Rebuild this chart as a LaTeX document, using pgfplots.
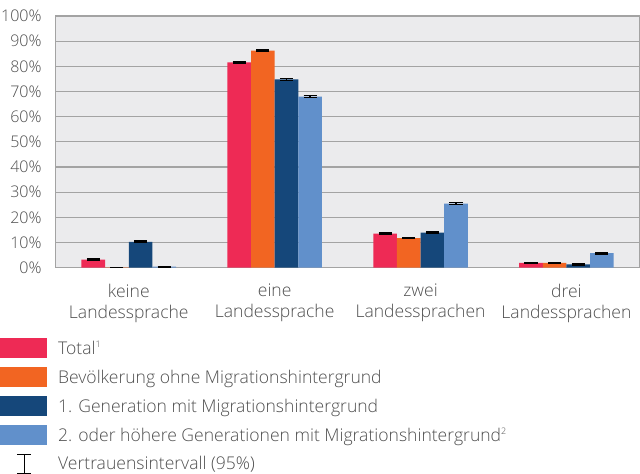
\documentclass[border=0pt]{standalone}
\usepackage{fontspec}
\setmainfont{Open Sans}[UprightFont={* Light}]
\usepackage{pgfplots}
\pgfplotsset{compat=1.18}
\definecolor{cRed}{HTML}{EE2A55}
\definecolor{cOrange}{HTML}{F26522}
\definecolor{cDark}{HTML}{15477A}
\definecolor{cLight}{HTML}{6190CB}
\definecolor{cGrid}{HTML}{A3A3A3}
\definecolor{cBg}{HTML}{EBEBED}
\definecolor{cText}{HTML}{4F4F4F}
\newcommand{\supnum}[1]{\raisebox{0.75ex}{\fontsize{9bp}{9bp}\selectfont #1}}
\begin{document}
\begin{tikzpicture}
\begin{axis}[
  width=582bp, height=251bp, scale only axis,
  xmin=-0.5, xmax=3.5, ymin=0, ymax=100,
  clip=false,
  ybar=0pt, bar width=0.162,
  axis background/.style={fill=cBg},
  axis line style={cGrid, line width=1.2bp},
  ymajorgrids, grid style={cGrid, line width=1.2bp},
  major tick length=0pt,
  ytick={0,10,...,100},
  yticklabel={\pgfmathprintnumber{\tick}\%},
  /pgf/number format/assume math mode=true,
  xtick={0,1,2,3},
  xticklabels={{keine\\Landessprache},{eine\\Landessprache},{zwei\\Landessprachen},{drei\\Landessprachen}},
  xticklabel style={align=center, inner sep=0pt, yshift=-16bp, font=\fontsize{17.5bp}{21bp}\selectfont},
  yticklabel style={inner sep=0pt, xshift=-14bp, font=\fontsize{16bp}{20bp}\selectfont},
  tick label style={text=cText},
  every axis plot/.append style={draw=none,
    error bars/y dir=both, error bars/y explicit,
    error bars/error bar style={black, line width=1.4bp},
    error bars/error mark options={black, rotate=90, line width=1.4bp, mark size=6.5bp}},
  legend image code/.code={\fill[#1,draw=none] (0bp,-10bp) rectangle (47bp,10bp);},
  legend style={draw=none, fill=none, at={(-0.096,-0.279)}, anchor=north west,
    inner sep=0pt, row sep=9bp, nodes={inner sep=0pt},
    font=\fontsize{17.5bp}{19bp}\selectfont, text=cText,
    /tikz/every odd column/.append style={column sep=11bp}},
  legend cell align=left,
]
\addplot[fill=cRed] coordinates {(0,3.2) +- (0,0.25) (1,81.6) +- (0,0.25) (2,13.5) +- (0,0.25) (3,1.9) +- (0,0.2)};
\addlegendentry{Total\supnum{1}}
\addplot[fill=cOrange] coordinates {(0,0.1) +- (0,0.05) (1,86.3) +- (0,0.25) (2,11.8) +- (0,0.25) (3,1.9) +- (0,0.2)};
\addlegendentry{Bevölkerung ohne Migrationshintergrund}
\addplot[fill=cDark] coordinates {(0,10.3) +- (0,0.3) (1,74.8) +- (0,0.3) (2,13.9) +- (0,0.3) (3,1.3) +- (0,0.2)};
\addlegendentry{1. Generation mit Migrationshintergrund}
\addplot[fill=cLight] coordinates {(0,0.4) +- (0,0.15) (1,68.0) +- (0,0.4) (2,25.5) +- (0,0.4) (3,5.8) +- (0,0.3)};
\addlegendentry{2. oder höhere Generationen mit Migrationshintergrund\supnum{2}}
\addlegendimage{legend image code/.code={\draw[black,line width=1bp] (17bp,-9bp)--(31bp,-9bp) (24bp,-9bp)--(24bp,9bp) (17bp,9bp)--(31bp,9bp);}}
\addlegendentry{Vertrauensintervall (95\%)}
\path (rel axis cs:0,1) ++(0,16bp);
\end{axis}
\end{tikzpicture}
\end{document}
